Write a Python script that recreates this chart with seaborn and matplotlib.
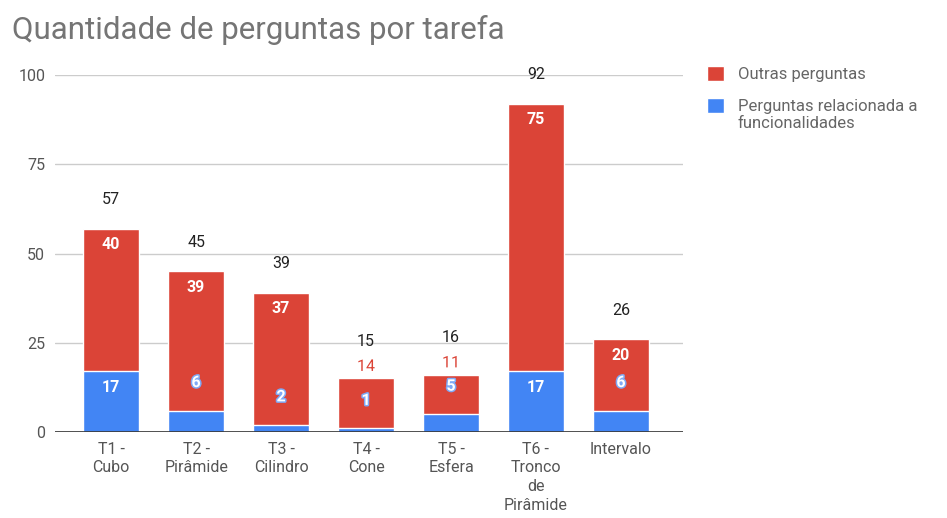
import matplotlib
matplotlib.use("Agg")
import matplotlib.pyplot as plt
import matplotlib.patheffects as pe
from matplotlib.patches import Patch
import seaborn as sns
import pandas as pd

# Question counts per task
tarefas = ["T1 -\nCubo", "T2 -\nPirâmide", "T3 -\nCilindro", "T4 -\nCone",
           "T5 -\nEsfera", "T6 -\nTronco\nde\nPirâmide", "Intervalo"]
funcionalidades = [17, 6, 2, 1, 5, 17, 6]
outras = [40, 39, 37, 14, 11, 75, 20]
totais = [f + o for f, o in zip(funcionalidades, outras)]
legenda = ["Outras perguntas", "Perguntas relacionada a", "funcionalidades"]

RED = "#DB4437"
BLUE = "#4285F4"
GREY = "#757575"
DARK = "#222222"

sns.set_theme(style="white")
plt.rcParams["font.family"] = ["Roboto", "DejaVu Sans"]

df = pd.DataFrame({"tarefa": tarefas, "func": funcionalidades,
                   "outras": outras, "total": totais})

fig = plt.figure(figsize=(9.47, 5.18), dpi=100)
ax = fig.add_axes([55 / 947, 1 - 432 / 518, (683 - 55) / 947, (432 - 75) / 518])

# Stacked bars: full total in red, functionality questions in blue on top of it
sns.barplot(data=df, x="tarefa", y="total", color=RED, width=0.65,
            saturation=1, ax=ax, zorder=3)
sns.barplot(data=df, x="tarefa", y="func", color=BLUE, width=0.65,
            saturation=1, ax=ax, zorder=3)

ax.set_ylim(0, 100)
ax.set_xlim(-0.66, 6.73)
ax.set_yticks([0, 25, 50, 75, 100])
ax.set_xlabel("")
ax.set_ylabel("")
for s in ax.spines.values():
    s.set_visible(False)
ax.grid(axis="y", color="#CCCCCC", linewidth=1, zorder=0)
ax.axhline(0, color="#333333", linewidth=1.2, zorder=4)
ax.tick_params(axis="both", length=0, labelsize=11.5, labelcolor="#555555")
ax.tick_params(axis="y", pad=7)
ax.tick_params(axis="x", pad=7)
for lbl in ax.get_xticklabels():
    lbl.set_linespacing(1.3)

PX = 72 / 100  # pixels -> points
seg_min = 8  # segments shorter than this cannot hold their label

for i, (f, o, t) in enumerate(zip(funcionalidades, outras, totais)):
    # blue segment label
    if f >= seg_min:
        ax.annotate(str(f), (i, f), xytext=(0, -16 * PX), textcoords="offset points",
                    ha="center", va="center", color="white", fontsize=11.5,
                    fontweight="bold", zorder=6)
    else:
        ax.annotate(str(f), (i, f), xytext=(0, 28 * PX), textcoords="offset points",
                    ha="center", va="center", color="white", fontsize=11.5,
                    fontweight="bold", zorder=6,
                    path_effects=[pe.withStroke(linewidth=2.2, foreground="#7FA9F5")])
    # red segment label
    if o >= 18:
        ax.annotate(str(o), (i, t), xytext=(0, -16 * PX), textcoords="offset points",
                    ha="center", va="center", color="white", fontsize=11.5,
                    fontweight="bold", zorder=6)
        tot_off = 29
    else:
        ax.annotate(str(o), (i, t), xytext=(0, 12 * PX), textcoords="offset points",
                    ha="center", va="center", color=RED, fontsize=11.5,
                    zorder=6, path_effects=[pe.withStroke(linewidth=2, foreground="white")])
        tot_off = 37
    # total label
    ax.annotate(str(t), (i, t), xytext=(0, tot_off * PX), textcoords="offset points",
                ha="center", va="center", color=DARK, fontsize=11.5,
                zorder=6, annotation_clip=False)

fig.text(12 / 947, 1 - 30 / 518, "Quantidade de perguntas por tarefa",
         fontsize=22.5, color=GREY, ha="left", va="center")

# Legend: swatch aligned with the first line of each entry
handles = [Patch(facecolor=RED, label=legenda[0]),
           Patch(facecolor=BLUE, label=legenda[1])]
leg = fig.legend(handles=handles, loc="upper left", bbox_to_anchor=(707 / 947, 1 - 66 / 518),
                 frameon=False, fontsize=12, labelcolor="#666666", handlelength=1.0,
                 handleheight=1.0, handletextpad=0.85, labelspacing=0.95, borderpad=0,
                 borderaxespad=0)
fig.canvas.draw()
bb = leg.get_texts()[1].get_window_extent()
x0, y0 = fig.transFigure.inverted().transform((bb.x0, bb.y0))
fig.text(x0, y0 - 2 / 518, legenda[2], fontsize=12, color="#666666",
         ha="left", va="top")

fig.savefig("out.png", dpi=100, facecolor="white")
